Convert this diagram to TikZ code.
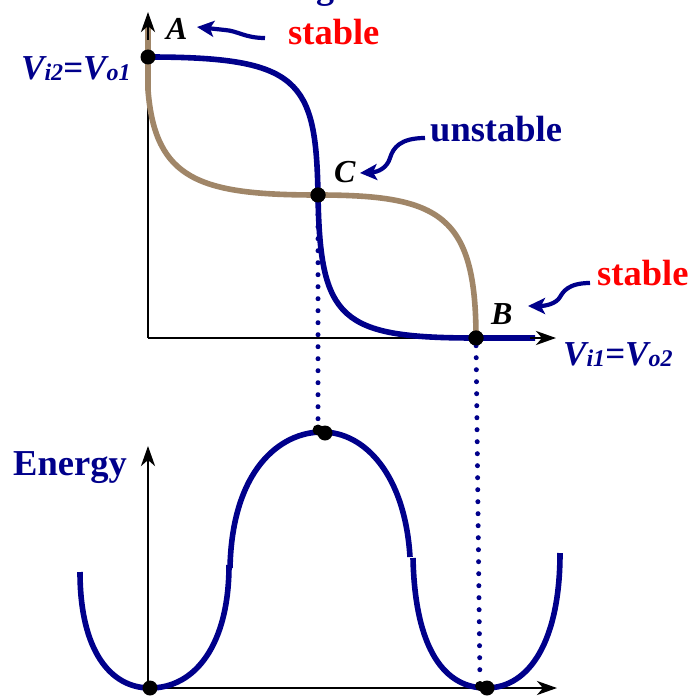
\documentclass[tikz,border=0pt]{standalone}
\usepackage{fontspec}
\setmainfont{Liberation Serif}
\usetikzlibrary{arrows.meta}
\definecolor{navy}{RGB}{0,0,139}
\definecolor{tanc}{RGB}{160,134,104}
\definecolor{stred}{RGB}{255,0,0}
\newcommand{\sbs}[1]{{\fontsize{24}{24}\selectfont\raisebox{-1pt}{#1}}}
\begin{document}
\begin{tikzpicture}[x=1pt,y=-1pt,
 curve/.style={line width=5.6pt},
 axis/.style={line width=2.8pt, black},
 axarrow/.style={axis, -{Stealth[length=20pt,width=14pt,inset=6pt]}},
 dotline/.style={navy, line width=5pt, line cap=round, dash pattern=on 0pt off 12pt},
 pt/.style={circle, fill=black, inner sep=0pt, minimum size=15pt},
 lbl/.style={font=\fontsize{32}{34}\selectfont\bfseries\itshape, inner sep=0pt, anchor=base west},
 vlbl/.style={font=\fontsize{35}{38}\selectfont\bfseries\itshape, inner sep=0pt, anchor=base west, text=navy},
 word/.style={font=\fontsize{36.5}{40}\selectfont\bfseries, inner sep=0pt, anchor=base west},
 callout/.style={navy, line width=4.2pt, -{Stealth[length=17pt,width=16pt,inset=4pt]}}
]
\useasboundingbox (0,0) rectangle (694,698);
\fill[white] (0,0) rectangle (694,698);

% clipped title fragment
\node[font=\fontsize{36}{40}\selectfont\bfseries, text=navy, inner sep=0pt, anchor=base] (title) at (325,-1) {g};

% ---------- top plot ----------
\coordinate (O1) at (148,338);
\coordinate (Ytop) at (148,12);
\coordinate (Xend) at (556,338);
\draw[axis] (O1) -- (148,40);
\draw[axis] (O1) -- (540,338);

% brown curve
\draw[curve, tanc] (148,20) -- (148,90) .. controls (155,180) and (200,195) .. (318,195)
   .. controls (440,195) and (476,215) .. (476,338);
% blue curve
\draw[curve, navy] (148,57) .. controls (300,57) and (316,80) .. (318,195)
   .. controls (320,320) and (340,338) .. (476,338) -- (535,338);

\draw[axarrow] (148,40) -- (Ytop);
\draw[axarrow] (530,338) -- (Xend);

\node[pt] (A) at (148,57) {};
\node[pt] (C) at (318,195) {};
\node[pt] (B) at (476,338) {};

% labels
\node[lbl] (la) at (166,40) {A};
\node[lbl] (lc) at (334,182) {C};
\node[lbl] (lb) at (491,324) {B};
\node[word, text=stred] (st1) at (288,45) {stable};
\node[word, text=navy] (un) at (430,142) {unstable};
\node[word, text=stred] (st2) at (597,285) {stable};
\node[vlbl] (vy) at (21,80) {V\sbs{i2}=V\sbs{o1}};
\node[vlbl] (vx) at (563,365) {V\sbs{i1}=V\sbs{o2}};

% callouts
\coordinate (c1s) at (265,38);
\coordinate (c1e) at (197,27);
\draw[callout] (c1s) .. controls (245,38) and (238,31) .. (225,30) -- (c1e);
\coordinate (c2s) at (425,138);
\coordinate (c2e) at (360,173);
\draw[callout] (c2s) .. controls (400,138) and (393,148) .. (390,158)
   .. controls (387,168) and (378,172) .. (c2e);
\coordinate (c3s) at (590,283);
\coordinate (c3e) at (528,306);
\draw[callout] (c3s) .. controls (568,283) and (563,292) .. (560,297)
   .. controls (556,304) and (545,306) .. (c3e);

% ---------- energy plot ----------
\coordinate (O2) at (148,688);
\draw[axarrow] (O2) -- (148,446);
\draw[axarrow] (O2) -- (557,688);
\node[word, text=navy] (en) at (13,475) {Energy};

\draw[curve, navy] (80,572) .. controls (80,650) and (110,688) .. (150,688)
   .. controls (195,688) and (229,645) .. (229,565);
\draw[curve, navy] (230,568) .. controls (232,470) and (280,432) .. (322,432)
   .. controls (365,432) and (405,475) .. (410,557);
\draw[curve, navy] (413,558) .. controls (415,650) and (445,688) .. (486,688)
   .. controls (530,688) and (560,640) .. (560,553);

\node[pt] (E1) at (150,688) {};
\node[pt, minimum size=11pt] (Et0) at (318,430) {};
\node[pt] (Et) at (325,433) {};
\node[pt, minimum size=10pt] (E20) at (480,686) {};
\node[pt] (E2) at (487,688) {};

\draw[dotline] (C) -- (Et0);
\draw[dotline] (B) -- (E20);
\node[pt] at (C) {};
\node[pt] at (B) {};
\end{tikzpicture}
\end{document}
